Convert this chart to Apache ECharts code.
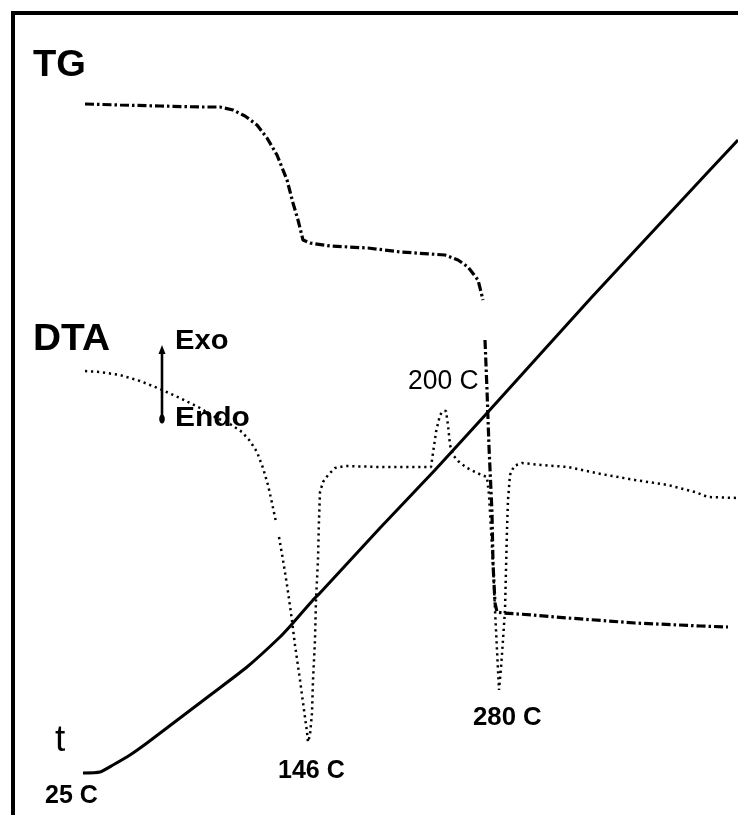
<!DOCTYPE html>
<html>
<head>
<meta charset="utf-8">
<script src="https://cdn.jsdelivr.net/npm/echarts@6/dist/echarts.min.js"></script>
<style>
  html, body { margin: 0; padding: 0; background: #fff; }
  #chart { width: 738px; height: 815px; }
</style>
</head>
<body>
<div id="chart"></div>
<script>
// Thermogram traces in drawing units (x to the right, y downward).
const tgCurve = [
  [85, 104], [120, 105], [160, 106], [200, 107], [220, 107], [233, 110], [245, 116],
  [257, 125], [267, 138], [277, 155], [287, 180], [293, 203], [298, 220], [301, 232],
  [303, 240], [310, 243], [330, 246], [368, 248], [401, 252], [445, 255], [458, 260],
  [468, 267], [478, 280], [483, 300], null,
  [485, 340], [487, 390], [489, 447], [492, 513], [493, 563], [495, 603], [497, 612],
  [503, 613], [533, 615], [568, 618], [635, 623], [701, 626], [728, 627]
];

const dtaCurve = [
  [85, 371], [100, 372], [120, 375], [140, 381], [160, 389], [180, 398], [200, 408],
  [215, 417], [230, 424], [242, 432], [250, 441], [257, 452], [263, 468], [268, 485],
  [272, 503], [276, 522], null,
  [279, 537], [283, 560], [287, 585], [291, 613], [295, 645], [300, 680], [304, 710],
  [307, 732], [308, 742], [310, 735], [312, 713], [313, 680], [315, 640], [316, 600],
  [318, 560], [319, 520], [320, 492], [323, 482], [328, 475], [335, 468], [345, 466],
  [380, 467], [410, 467], [431, 467], [433, 453], [436, 432], [440, 415], [443, 411],
  [446, 411], [448, 425], [450, 445], [453, 455], [458, 461], [467, 468], [477, 473],
  [487, 477], [489, 495], [491, 530], [493, 563], [495, 610], [497, 650], [499, 690],
  [501, 668], [503, 640], [505, 610], [506, 570], [507, 530], [508, 500], [510, 475],
  [514, 466], [522, 463], [541, 465], [568, 467], [601, 474], [635, 480], [668, 485],
  [695, 492], [708, 497], [738, 498]
];

const tCurve = [
  [83, 773], [100, 772], [113, 765], [130, 755], [147, 743], [180, 718], [213, 693],
  [247, 667], [280, 637], [293, 623], [313, 600], [320, 593], [380, 528], [435, 470],
  [488, 412], [591, 298], [682, 200], [738, 140]
];

// Curve names and temperature notes written on the plot
const curveNames = ['TG', 'DTA', 't'];
const heatFlowNames = ['Exo', 'Endo'];
const temperatureNotes = ['25 C', '146 C', '200 C', '280 C'];

const FONT = '"Liberation Sans", Arial, Helvetica, sans-serif';

// Placement of each text: x, y (middle of capitals), font size, weight, horizontal stretch
const textLayout = {
  'TG':    { x: 33,  y: 66,  size: 37, weight: 'bold',   sx: 1.03 },
  'DTA':   { x: 33,  y: 340, size: 36, weight: 'bold',   sx: 1.08 },
  't':     { x: 55,  y: 741, size: 37, weight: 'normal', sx: 1.0 },
  'Exo':   { x: 175, y: 342, size: 27, weight: 'bold',   sx: 1.08 },
  'Endo':  { x: 175, y: 419, size: 27, weight: 'bold',   sx: 1.11 },
  '25 C':  { x: 45,  y: 796, size: 25, weight: 'bold',   sx: 1.0 },
  '146 C': { x: 278, y: 771, size: 25, weight: 'bold',   sx: 1.0 },
  '200 C': { x: 408, y: 382, size: 27, weight: 'normal', sx: 0.98 },
  '280 C': { x: 473, y: 718, size: 26, weight: 'bold',   sx: 0.99 }
};

const chart = echarts.init(document.getElementById('chart'), null, { renderer: 'canvas' });

const textElements = curveNames.concat(heatFlowNames, temperatureNotes).map(text => {
  const p = textLayout[text];
  return {
    type: 'text',
    x: p.x,
    y: p.y,
    scaleX: p.sx,
    style: {
      text: text,
      fill: '#000',
      font: p.weight + ' ' + p.size + 'px ' + FONT,
      textAlign: 'left',
      textVerticalAlign: 'middle'
    },
    z: 10
  };
});

chart.setOption({
  animation: false,
  backgroundColor: '#fff',
  grid: { left: 0, right: 0, top: 0, bottom: 0 },
  xAxis: { type: 'value', min: 0, max: 738, show: false },
  yAxis: { type: 'value', min: 0, max: 815, inverse: true, show: false },
  series: [
    {
      name: 'TG',
      type: 'line',
      data: tgCurve,
      symbol: 'none',
      connectNulls: false,
      lineStyle: { color: '#000', width: 3.2, type: [9, 3, 2.5, 3] }
    },
    {
      name: 'DTA',
      type: 'line',
      data: dtaCurve,
      symbol: 'none',
      connectNulls: false,
      lineStyle: { color: '#000', width: 2.5, type: [2.2, 3.8] }
    },
    {
      name: 't',
      type: 'line',
      data: tCurve,
      symbol: 'none',
      smooth: 0.2,
      lineStyle: { color: '#000', width: 3 }
    }
  ],
  graphic: [
    // frame along the left and top edges
    {
      type: 'polyline',
      shape: { points: [[13, 815], [13, 13], [738, 13]] },
      style: { stroke: '#000', lineWidth: 4, fill: null }
    },
    // Exo / Endo direction marker
    {
      type: 'line',
      shape: { x1: 162, y1: 350, x2: 162, y2: 419 },
      style: { stroke: '#000', lineWidth: 2.6 }
    },
    {
      type: 'polygon',
      shape: { points: [[162, 345], [158.5, 354], [165.5, 354]] },
      style: { fill: '#000' }
    },
    {
      type: 'ellipse',
      shape: { cx: 162, cy: 419, rx: 2.8, ry: 4.5 },
      style: { fill: '#000' }
    }
  ].concat(textElements)
});
</script>
</body>
</html>
